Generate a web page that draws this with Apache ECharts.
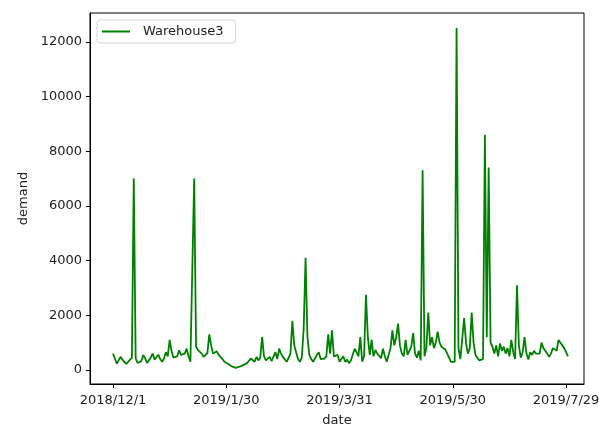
<!DOCTYPE html>
<html>
<head>
<meta charset="utf-8">
<script src="https://cdn.jsdelivr.net/npm/echarts@6/dist/echarts.min.js"></script>
<style>
  html, body { margin: 0; padding: 0; background: #fff; }
  #chart { width: 599px; height: 430px; }
</style>
</head>
<body>
<div id="chart"></div>
<script>
// first day of the series, one value per day after it
const startDate = [2018, 12, 1];
const seriesName = "Warehouse3";
const demand = [
  600, 420, 230, 300, 480, 380, 300, 220, 300, 280,
  450, 7000, 420, 260, 200, 320, 550, 430, 260, 300,
  450, 600, 380, 350, 560, 400, 300, 420, 650, 500,
  1100, 700, 450, 380, 500, 720, 550, 500, 600, 780,
  500, 300, 350, 7000, 850, 730, 800, 600, 480, 500,
  620, 1300, 900, 600, 650, 680, 550, 480, 400, 300,
  250, 220, 180, 130, 100, 80, 100, 120, 130, 180,
  230, 250, 320, 420, 350, 300, 480, 350, 450, 1200,
  500, 350, 300, 480, 320, 280, 650, 400, 780, 600,
  480, 420, 300, 350, 600, 1800, 900, 650, 400, 300,
  450, 1500, 4100, 1200, 550, 400, 300, 350, 550, 650,
  400, 330, 420, 500, 1300, 600, 1450, 500, 450, 550,
  300, 350, 500, 300, 380, 250, 350, 300, 780, 650,
  500, 1200, 300, 500, 2750, 1200, 550, 1100, 500, 730,
  600, 550, 430, 780, 500, 300, 350, 800, 1450, 900,
  1200, 1700, 900, 600, 500, 1100, 550, 700, 850, 1350,
  600, 450, 700, 350, 7300, 500, 800, 2100, 900, 1200,
  800, 1000, 1400, 1000, 850, 900, 750, 700, 450, 300,
  250, 300, 12500, 800, 400, 350, 1900, 1000, 600, 800,
  2100, 1000, 550, 450, 350, 300, 400, 8600, 1200, 7400,
  1000, 850, 600, 900, 500, 970, 700, 850, 600, 800,
  500, 1100, 650, 400, 3100, 900, 450, 650, 1200, 600,
  380, 650, 550, 700, 600, 650, 600, 1000, 800, 750,
  600, 480, 600, 800, 850, 700, 1100, 1000, 900, 800,
  650, 500
];
// x ticks, in days after startDate
const xTickDays = [0, 60, 120, 180, 240];
const yTicks = [0, 2000, 4000, 6000, 8000, 10000, 12000];

function dayLabel(d) {
  const t = new Date(startDate[0], startDate[1] - 1, startDate[2] + d);
  return t.getFullYear() + "/" + (t.getMonth() + 1) + "/" + t.getDate();
}

const font = "DejaVu Sans";
const chart = echarts.init(document.getElementById("chart"));
chart.setOption({
  animation: false,
  backgroundColor: "#fff",
  grid: {
    left: 90,
    right: 15,
    top: 13,
    bottom: 46,
    outerBoundsMode: "none",
    containLabel: false,
    show: true,
    borderColor: "#000",
    borderWidth: 1,
    backgroundColor: "transparent",
  },
  legend: {
    data: [seriesName],
    left: 97,
    top: 20,
    orient: "vertical",
    icon: "rect",
    itemWidth: 28,
    itemHeight: 2,
    itemGap: 13,
    padding: [5, 12, 5, 5],
    borderColor: "#d5d5d5",
    borderWidth: 1,
    borderRadius: 3,
    backgroundColor: "rgba(255,255,255,0.8)",
    textStyle: { fontFamily: font, fontSize: 13, color: "#222", padding: [0, 0, 0, 8] },
  },
  xAxis: {
    type: "value",
    min: -12.19,
    max: 249.5,
    name: "date",
    nameLocation: "middle",
    nameGap: 30,
    nameTextStyle: { fontFamily: font, fontSize: 13, color: "#222" },
    splitLine: { show: false },
    axisLine: { show: true, onZero: false, lineStyle: { color: "#000", width: 1 } },
    axisTick: {
      show: true,
      length: 4,
      lineStyle: { color: "#000" },
      customValues: xTickDays,
    },
    axisLabel: {
      fontFamily: font,
      fontSize: 13,
      color: "#222",
      margin: 10,
      customValues: xTickDays,
      formatter: (v) => dayLabel(v),
    },
  },
  yAxis: {
    type: "value",
    min: -512,
    max: 13053,
    name: "demand",
    nameLocation: "middle",
    nameGap: 58,
    nameTextStyle: { fontFamily: font, fontSize: 13, color: "#222" },
    splitLine: { show: false },
    axisLine: { show: true, onZero: false, lineStyle: { color: "#000", width: 1 } },
    axisTick: {
      show: true,
      length: 4,
      lineStyle: { color: "#000" },
      customValues: yTicks,
    },
    axisLabel: {
      fontFamily: font,
      fontSize: 13,
      color: "#222",
      margin: 8,
      customValues: yTicks,
      formatter: (v) => String(v),
    },
  },
  series: [
    {
      name: seriesName,
      type: "line",
      data: demand.map((v, i) => [i, v]),
      symbol: "none",
      color: "#008000",
      lineStyle: { color: "#008000", width: 1.8 },
    },
  ],
});
</script>
</body>
</html>
